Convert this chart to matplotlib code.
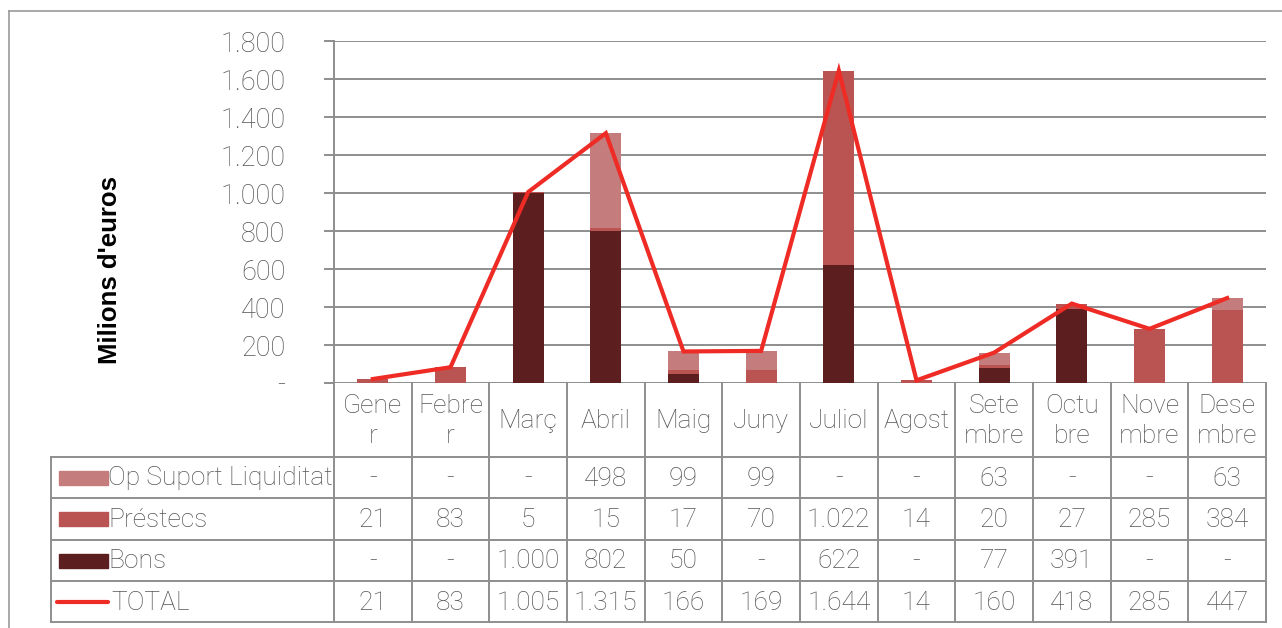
import matplotlib
matplotlib.use("Agg")
import matplotlib.pyplot as plt
from matplotlib.patches import Rectangle
from matplotlib.ticker import FuncFormatter

# Monthly financing operations (millions of euros)
months = ["Gener", "Febrer", "Març", "Abril", "Maig", "Juny", "Juliol",
          "Agost", "Setembre", "Octubre", "Novembre", "Desembre"]
header_labels = ["Gene\nr", "Febre\nr", "Març", "Abril", "Maig", "Juny",
                 "Juliol", "Agost", "Sete\nmbre", "Octu\nbre", "Nove\nmbre", "Dese\nmbre"]
op_suport = [0, 0, 0, 498, 99, 99, 0, 0, 63, 0, 0, 63]
prestecs = [21, 83, 5, 15, 17, 70, 1022, 14, 20, 27, 285, 384]
bons = [0, 0, 1000, 802, 50, 0, 622, 0, 77, 391, 0, 0]
total = [21, 83, 1005, 1315, 166, 169, 1644, 14, 160, 418, 285, 447]
y_ticks = [0, 200, 400, 600, 800, 1000, 1200, 1400, 1600, 1800]

series_names = ["Op Suport Liquiditat", "Préstecs", "Bons", "TOTAL"]
c_op = "#C47C7C"
c_pr = "#BA5452"
c_bo = "#5C1E1E"
c_tot = "#EE2B25"
grid_c = "#8E8E8E"
text_c = "#555555"
font = "Roboto"


def fmt(v):
    if v == 0:
        return "-"
    return f"{v:,.0f}".replace(",", ".")


W, H = 1282, 628
fig = plt.figure(figsize=(W / 100, H / 100), dpi=100)

x0, x1, ytop, ybot = 334, 1266, 41, 383
ax = fig.add_axes([x0 / W, 1 - ybot / H, (x1 - x0) / W, (ybot - ytop) / H])
x = list(range(len(months)))
bw = 0.40
ax.bar(x, bons, bw, color=c_bo, zorder=2)
bottom2 = [b for b in bons]
ax.bar(x, prestecs, bw, bottom=bottom2, color=c_pr, zorder=2)
bottom3 = [b + p for b, p in zip(bons, prestecs)]
ax.bar(x, op_suport, bw, bottom=bottom3, color=c_op, zorder=2)
ax.plot(x, total, color=c_tot, lw=3.0, zorder=3, solid_joinstyle="miter")

ax.set_xlim(-0.5, len(months) - 0.5)
ax.set_ylim(0, 1800)
ax.set_yticks(y_ticks)
ax.yaxis.set_major_formatter(FuncFormatter(lambda v, p: fmt(v)))
ax.set_xticks([])
ax.grid(axis="y", color=grid_c, lw=1.4, zorder=0)
for s in ["top", "right", "bottom"]:
    ax.spines[s].set_visible(False)
ax.spines["left"].set_color(grid_c)
ax.spines["left"].set_linewidth(1.4)
ax.tick_params(axis="y", length=7, width=1.4, color=grid_c, pad=28,
               labelsize=19.5, labelcolor=text_c)
for lab in ax.get_yticklabels():
    lab.set_fontfamily(font)
    lab.set_fontweight("light")

fig.text(110 / W, 1 - 270 / H, "Milions d'euros", rotation=90, ha="center",
         va="center", fontsize=18.5, fontweight="bold", family="Liberation Sans",
         color="black")

# Overlay in pixel coordinates for the data table below the plot
ov = fig.add_axes([0, 0, 1, 1], zorder=5)
ov.set_xlim(0, W)
ov.set_ylim(H, 0)
ov.axis("off")
ov.patch.set_alpha(0)

# column edges from the plot's own x scale
edges = [ax.transData.transform((i - 0.5, 0))[0] for i in range(len(months) + 1)]
centers = [ax.transData.transform((i, 0))[0] for i in range(len(months))]

tbl_left = 51
hdr_bot = 457
rows = [457, 498, 540, 581, 622]
lw_t = 1.4

for e in edges:
    ov.plot([e, e], [ybot, rows[-1]], color=grid_c, lw=lw_t)
ov.plot([tbl_left, tbl_left], [hdr_bot, rows[-1]], color=grid_c, lw=lw_t)
for r in rows:
    ov.plot([tbl_left, edges[-1]], [r, r], color=grid_c, lw=lw_t)

# outer chart frame
ov.plot([9, W], [11, 11], color="#9a9a9a", lw=1.2)
ov.plot([9, 9], [11, H], color="#9a9a9a", lw=1.2)

# header row
for cx, lab in zip(centers, header_labels):
    ov.text(cx, (ybot + hdr_bot) / 2 + 1, lab, ha="center", va="center",
            fontsize=19, family=font, fontweight="light", color=text_c,
            linespacing=1.3)

table_rows = [op_suport, prestecs, bons, total]
for i, (name, vals) in enumerate(zip(series_names, table_rows)):
    cy = (rows[i] + rows[i + 1]) / 2
    if name == "TOTAL":
        ov.plot([57, 108], [cy, cy], color=c_tot, lw=3.0, solid_capstyle="round")
        tx = 111
    else:
        col = [c_op, c_pr, c_bo][i]
        ov.add_patch(Rectangle((59, cy - 7), 49, 14, color=col))
        tx = 108
    ov.text(tx, cy + 1, name, ha="left", va="center", fontsize=19, family=font,
            fontweight="light", color=text_c)
    for cx, v in zip(centers, vals):
        ov.text(cx, cy + 1, fmt(v), ha="center", va="center", fontsize=19,
                family=font, fontweight="light", color=text_c)

fig.savefig("out.png", dpi=100, facecolor="white")
